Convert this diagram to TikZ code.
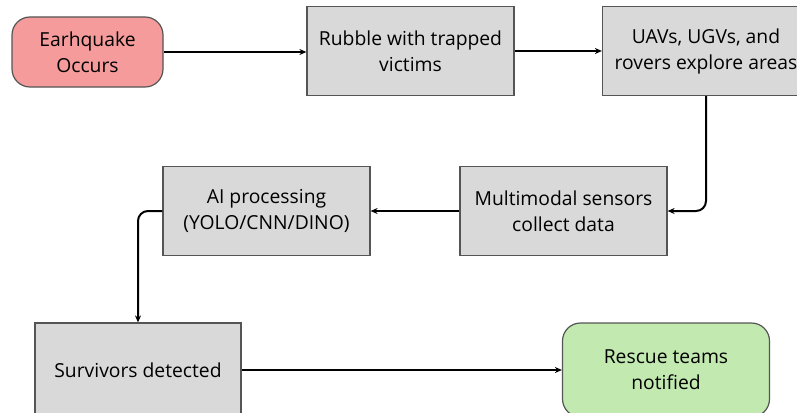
\documentclass[tikz,border=0pt]{standalone}
\usepackage{fontspec}
\setmainfont{Open Sans}
\usetikzlibrary{positioning, arrows.meta}
\definecolor{quakered}{RGB}{245,155,155}
\definecolor{stepgray}{RGB}{217,217,217}
\definecolor{rescuegreen}{RGB}{193,233,176}
\definecolor{edgegray}{RGB}{85,85,85}

\tikzset{
    proc/.style={draw=edgegray, fill=stepgray, line width=1.2pt, minimum width=207pt,
        minimum height=89pt, align=center, font=\fontsize{19.3}{26}\selectfont, inner sep=0pt},
    term/.style={proc, rounded corners=18pt},
    flow/.style={-{Stealth[length=7pt,width=6pt]}, line width=2pt, rounded corners=10pt}
}

\begin{document}
\begin{tikzpicture}[x=1pt, y=1pt]
    \useasboundingbox (0,0) rectangle (797,-412);
    \clip (0,0) rectangle (797,-412);
    \fill[white] (0,0) rectangle (797,-412);

    \node[term, fill=quakered, minimum width=151pt, minimum height=70pt] (quake) at (87.5,-52) {Earhquake\\Occurs};
    \node[proc] (rubble) at (410.5,-51) {Rubble with trapped\\victims};
    \node[proc] (uav) at (706,-51) {UAVs, UGVs, and\\rovers explore areas};
    \node[proc] (multi) at (563.5,-211) {Multimodal sensors\\collect data};
    \node[proc] (ai) at (266.5,-211) {AI processing\\(YOLO/CNN/DINO)};
    \node[proc, minimum width=206pt, minimum height=94pt] (surv) at (138,-370) {Survivors detected};
    \node[term, fill=rescuegreen, minimum height=94pt] (rescue) at (666,-370) {Rescue teams\\notified};

    \draw[flow] (quake.east) -- (quake.east -| rubble.west);
    \draw[flow] (rubble) -- (uav);
    \draw[flow] (uav.south) |- (multi.east);
    \draw[flow] (multi) -- (ai);
    \draw[flow] (ai.west) -| (surv.north);
    \draw[flow] (surv) -- (rescue);
\end{tikzpicture}
\end{document}
